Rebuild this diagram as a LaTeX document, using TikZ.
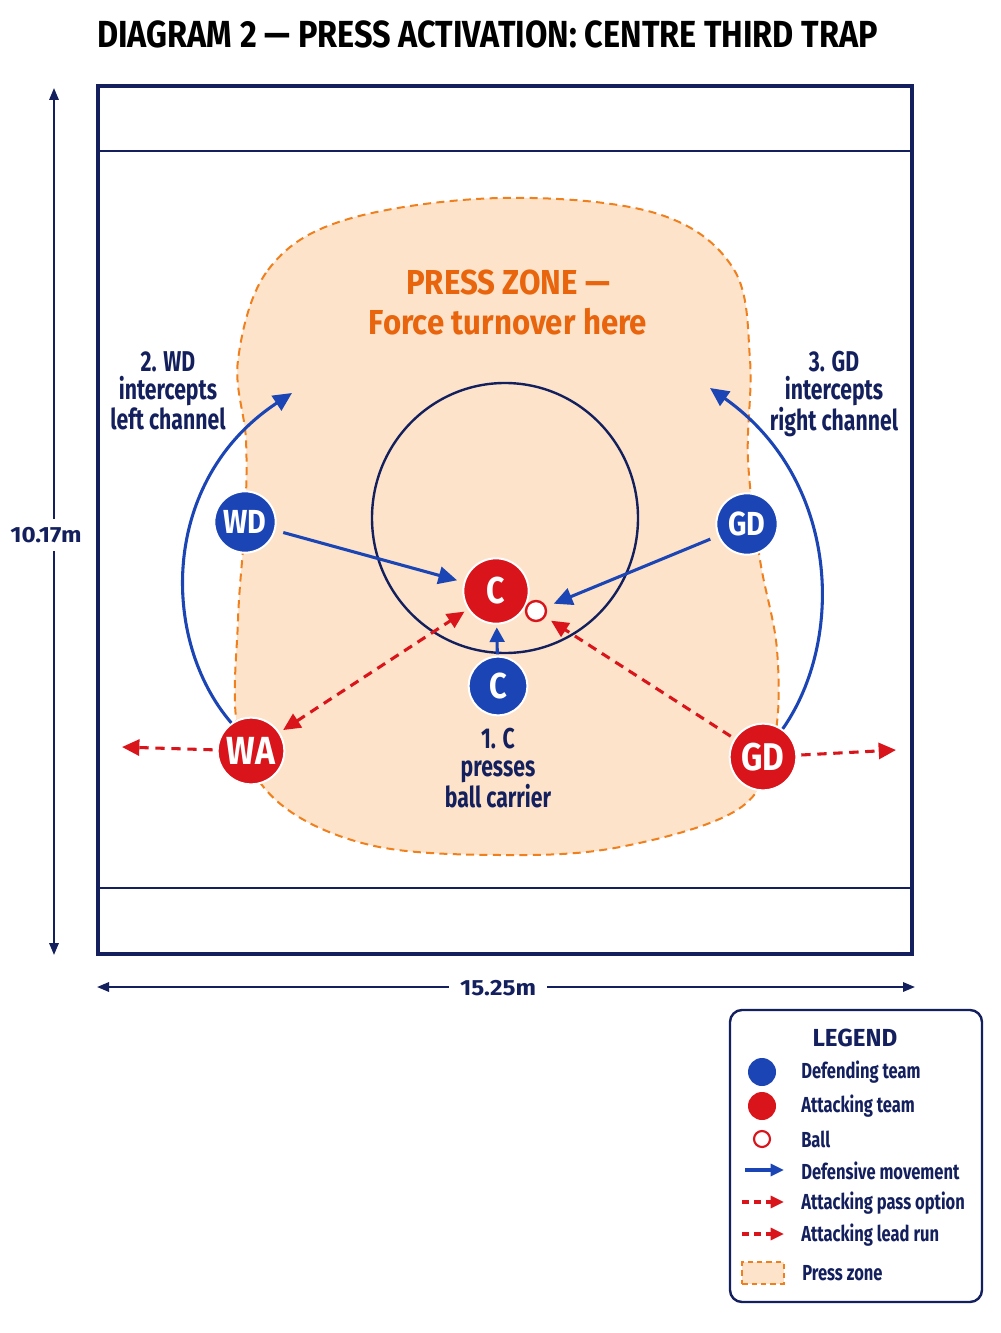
\documentclass[tikz,border=0pt]{standalone}
\usepackage{fontspec}
\setmainfont{Fira Sans}[FakeStretch=0.8]
\newfontfamily\fnarrow{Fira Sans}[FakeStretch=0.74]
\newfontfamily\fleg{Fira Sans}[FakeStretch=0.76]
\newfontfamily\fmid{Fira Sans}[FakeStretch=0.86]
\newfontfamily\fzone{Fira Sans}[FakeStretch=0.9]
\newfontfamily\fwide{Fira Sans}[FakeStretch=0.98]
\newfontfamily\fdim{Fira Sans}[FakeStretch=1.1]
\usetikzlibrary{arrows.meta}
\definecolor{navy}{HTML}{14205E}
\definecolor{dblue}{HTML}{1B45B5}
\definecolor{ared}{HTML}{D9141B}
\definecolor{zoneor}{HTML}{F0801E}
\definecolor{zonefill}{HTML}{FCE3C9}
\definecolor{zonetxt}{HTML}{E9650D}
\newcommand{\fsz}[2]{\fontsize{#1pt}{#2pt}\selectfont}
\tikzset{
  player/.style={circle, draw=white, line width=1.5pt, text=white, inner sep=0pt, font=\fmid\bfseries\fsz{25}{26}},
  defp/.style={player, fill=dblue},
  attp/.style={player, fill=ared},
  ballnode/.style={circle, draw=ared, fill=white, line width=1.8pt, minimum size=15pt, inner sep=0pt},
  defmove/.style={draw=dblue, line width=2.3pt, -{Triangle[length=14pt,width=13pt]}},
  attmove/.style={draw=ared, line width=2.3pt, dash pattern=on 7pt off 5pt, -{Triangle[length=13pt,width=12pt]}},
  lbl/.style={text=navy, font=\fnarrow\bfseries\fsz{21.5}{21}, align=center},
  dimline/.style={draw=navy, line width=1.6pt, {Triangle[length=9pt,width=7pt]}-{Triangle[length=9pt,width=7pt]}},
  dimlbl/.style={fill=white, text=navy, font=\fdim\bfseries\fsz{16.5}{18}, inner sep=3pt},
  legtxt/.style={anchor=west, text=navy, font=\fleg\bfseries\fsz{16.3}{18}, inner sep=0pt},
}
\begin{document}
\begin{tikzpicture}[x=0.75pt,y=-0.75pt]
\useasboundingbox (0,0) rectangle (1000,1333);
\fill[white] (0,0) rectangle (1000,1333);
% title
\node[anchor=base west, inner sep=0pt, font=\fmid\bfseries\fsz{28.3}{30}] (title) at (97,48) {DIAGRAM 2 — PRESS ACTIVATION: CENTRE THIRD TRAP};
% court
\draw[navy, line width=2.4pt] (98,86) rectangle (912,954);
\draw[navy, line width=1.6pt] (98,151) -- (912,151);
\draw[navy, line width=1.6pt] (98,888) -- (912,888);
% press zone
\draw[zoneor, fill=zonefill, line width=1.5pt, dash pattern=on 6pt off 4pt]
  plot[smooth cycle, tension=0.6] coordinates {(238,360) (268,270) (345,220) (500,198) (655,213) (733,268) (750,360) (748,460) (760,560) (777,650) (774,740) (740,808) (620,847) (500,855) (370,845) (278,802) (238,730) (238,620) (245,520) (246,440)};
% centre circle
\draw[navy, line width=1.8pt] (505,518) ellipse (133 and 135);
% zone text
\node[text=zonetxt, font=\fzone\bfseries\fsz{26}{29}, align=center, inner sep=0pt] (zonelbl) at (508,302) {PRESS ZONE —\\[1pt]Force turnover here};
% players
\node[defp, minimum size=46pt] (wd) at (245,522) {WD};
\node[defp, minimum size=46pt] (gdb) at (747,524) {GD};
\node[attp, minimum size=49pt, font=\fmid\bfseries\fsz{28}{28}] (cr) at (496,591) {C};
\node[defp, minimum size=44pt, font=\fmid\bfseries\fsz{27}{28}] (cb) at (498,686) {C};
\node[attp, minimum size=50pt, font=\fmid\bfseries\fsz{29.4}{30}] (wa) at (251,751) {WA};
\node[attp, minimum size=50pt, font=\fmid\bfseries\fsz{29}{30}] (gdr) at (763,757) {GD};
\node[ballnode] (ball) at (536,611) {};
% defensive movement
\draw[defmove, shorten <=6pt, shorten >=5pt] (wd) -- (cr);
\draw[defmove, shorten <=6pt, shorten >=6pt] (gdb) -- (ball);
\draw[defmove, -{Triangle[length=11pt,width=11pt]}, shorten <=1pt, shorten >=2pt] (cb) -- (cr);
\coordinate (wdend) at (292,393);
\coordinate (gdend) at (710,388);
\draw[defmove] (wa.125) .. controls (160,640) and (160,480) .. (wdend);
\draw[defmove] (gdr.55) .. controls (845,640) and (840,480) .. (gdend);
% attacking pass options
\draw[attmove, {Triangle[length=13pt,width=12pt]}-{Triangle[length=13pt,width=12pt]}, shorten <=3pt, shorten >=3pt] (wa) -- (cr);
\draw[attmove, shorten <=3pt, shorten >=5pt] (gdr) -- (ball);
% lead runs
\coordinate (waend) at (122,747);
\coordinate (gdrend) at (896,750);
\draw[attmove, shorten <=3pt] (wa) -- (waend);
\draw[attmove, shorten <=3pt] (gdr) -- (gdrend);
% labels
\node[lbl] (lbl2) at (168,391) {2. WD\\intercepts\\left channel};
\node[lbl] (lbl3) at (834,394) {3. GD\\intercepts\\right channel};
\node[lbl] (lbl1) at (498,768) {1. C\\presses\\ball carrier};
% dimensions
\coordinate (vtop) at (54,88);
\coordinate (vbot) at (54,955);
\draw[dimline] (vtop) -- (vbot);
\node[dimlbl, inner ysep=6pt] (vlbl) at (46,535) {10.17m};
\coordinate (hl) at (97,987);
\coordinate (hr) at (915,987);
\draw[dimline] (hl) -- (hr);
\node[dimlbl, inner xsep=8pt] (hlbl) at (498,988) {15.25m};
% legend
\draw[navy, line width=1.8pt, fill=white, rounded corners=9pt] (730,1010) rectangle (982,1302);
\node[text=navy, font=\fwide\bfseries\fsz{18.5}{20}] (legtitle) at (855,1038) {LEGEND};
\node[circle, fill=dblue, minimum size=21pt, inner sep=0pt] (lg1) at (762,1072) {};
\node[legtxt] (lt1) at (801,1072) {Defending team};
\node[circle, fill=ared, minimum size=21pt, inner sep=0pt] (lg2) at (762,1106) {};
\node[legtxt] (lt2) at (801,1106) {Attacking team};
\node[ballnode, minimum size=12pt, line width=1.6pt] (lg3) at (762,1139) {};
\node[legtxt] (lt3) at (801,1139) {Ball};
\coordinate (la1) at (745,1170); \coordinate (lb1) at (784,1170);
\draw[defmove, -{Triangle[length=10pt,width=9pt]}] (la1) -- (lb1);
\node[legtxt] (lt4) at (801,1171) {Defensive movement};
\coordinate (la2) at (742,1202); \coordinate (lb2) at (784,1202);
\draw[attmove, dash pattern=on 5pt off 4pt, -{Triangle[length=10pt,width=9pt]}] (la2) -- (lb2);
\node[legtxt] (lt5) at (801,1203) {Attacking pass option};
\coordinate (la3) at (742,1234); \coordinate (lb3) at (784,1234);
\draw[attmove, dash pattern=on 5pt off 4pt, -{Triangle[length=10pt,width=9pt]}] (la3) -- (lb3);
\node[legtxt] (lt6) at (801,1235) {Attacking lead run};
\node[draw=zoneor, fill=zonefill, dash pattern=on 4pt off 3pt, line width=1.3pt, minimum width=31pt, minimum height=16pt, inner sep=0pt] (lg7) at (763,1273) {};
\node[legtxt] (lt7) at (802,1273) {Press zone};
\end{tikzpicture}
\end{document}
